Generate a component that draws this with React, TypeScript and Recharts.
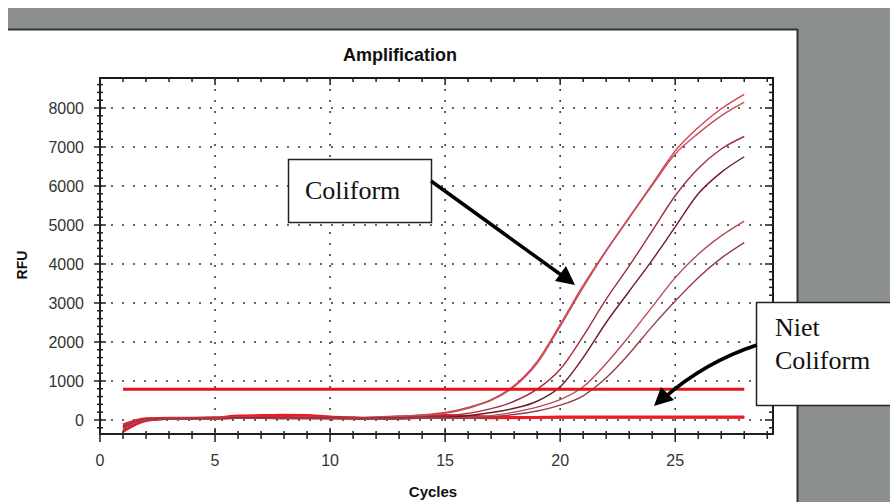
import { LineChart, Line, XAxis, YAxis, CartesianGrid, ReferenceLine } from 'recharts'

// cycle numbers (x)
const cycles = [1, 2, 3, 4, 5, 6, 7, 8, 9, 10, 11, 12, 13, 14, 15, 16, 17, 18, 19, 20, 21, 22, 23, 24, 25, 26, 27, 28]

// coliform amplification curves (RFU per cycle)
const colA = [-150, 20, 40, 50, 60, 70, 60, 60, 70, 60, 60, 80, 100, 130, 190, 320, 520, 880, 1500, 2450, 3450, 4350, 5200, 6050, 6900, 7500, 7980, 8350]
const colB = [-200, 10, 30, 40, 50, 60, 60, 50, 60, 50, 50, 70, 90, 120, 170, 300, 500, 850, 1450, 2400, 3400, 4330, 5180, 6020, 6820, 7350, 7800, 8150]
const colC = [-250, 0, 30, 40, 40, 50, 50, 50, 50, 50, 40, 50, 60, 80, 110, 170, 290, 480, 790, 1300, 2150, 3100, 3950, 4850, 5750, 6450, 6950, 7270]
const colD = [-180, 10, 30, 40, 40, 50, 50, 40, 40, 40, 40, 40, 50, 60, 70, 110, 190, 300, 480, 850, 1600, 2500, 3300, 4100, 4950, 5800, 6350, 6750]
const colE = [-220, 0, 20, 30, 40, 40, 40, 40, 40, 30, 30, 30, 40, 50, 50, 60, 110, 200, 330, 520, 850, 1450, 2150, 2900, 3650, 4250, 4720, 5100]
const colF = [-160, 10, 20, 30, 30, 40, 40, 30, 30, 30, 30, 30, 30, 40, 40, 40, 80, 140, 230, 380, 620, 1080, 1700, 2400, 3050, 3650, 4150, 4550]

// non-coliform (flat) curves
const niet1 = [-120, 40, 50, 50, 60, 110, 120, 130, 120, 80, 60, 40, 60, 110, 120, 100, 80, 70, 70, 70, 70, 70, 70, 70, 70, 70, 70, 70]
const niet2 = [-300, -20, 30, 40, 40, 60, 80, 90, 90, 60, 40, 30, 40, 60, 70, 60, 50, 50, 60, 60, 60, 60, 60, 60, 60, 60, 60, 60]
const niet3 = [-200, 0, 40, 40, 50, 80, 100, 110, 100, 70, 50, 30, 50, 80, 90, 80, 60, 60, 70, 80, 80, 80, 80, 80, 80, 80, 80, 80]

const threshold = 790
const thresholdStart = 1
const thresholdEnd = 28

const xMajor = [0, 5, 10, 15, 20, 25]
const yMajor = [0, 1000, 2000, 3000, 4000, 5000, 6000, 7000, 8000]
const xDomain = [0, 29.25]
const yDomain = [-360, 8770]
const xTicks = Array.from({ length: 30 }, (_, i) => i)
const yTicks = Array.from({ length: 45 }, (_, i) => -200 + i * 200)

// plot box in page pixels
const PLOT = { left: 100, top: 78, right: 773, bottom: 434 }

const data = cycles.map((c, i) => ({
  cycle: c,
  a: colA[i],
  b: colB[i],
  c: colC[i],
  d: colD[i],
  e: colE[i],
  f: colF[i],
  n1: niet1[i],
  n2: niet2[i],
  n3: niet3[i],
}))

const coliformSeries = [
  { key: 'a', color: '#d8404e' },
  { key: 'b', color: '#c0505a' },
  { key: 'c', color: '#a32c3c' },
  { key: 'd', color: '#6a1c26' },
  { key: 'e', color: '#b84a56' },
  { key: 'f', color: '#93404c' },
]
const nietSeries = ['n1', 'n2', 'n3']

const FONT = '"Liberation Sans", Arial, sans-serif'
const SERIF = '"Liberation Serif", "Times New Roman", serif'
const AX = '#222'

// same linear mapping the chart uses, for the mirrored top/right ticks
const px = (c) => PLOT.left + ((c - xDomain[0]) / (xDomain[1] - xDomain[0])) * (PLOT.right - PLOT.left)
const py = (v) => PLOT.bottom - ((v - yDomain[0]) / (yDomain[1] - yDomain[0])) * (PLOT.bottom - PLOT.top)

const BottomTick = ({ x, y, payload }: any) => {
  const v = payload.value
  const major = v % 5 === 0
  return (
    <g>
      <line x1={x} x2={x} y1={y - (major ? 6 : 3)} y2={y + (major ? 8 : 5)} stroke={AX} strokeWidth={1.5} />
      {major && (
        <text x={x} y={y + 32} textAnchor="middle" fontSize={16} fontFamily={FONT} fill="#333">
          {v}
        </text>
      )}
    </g>
  )
}

const LeftTick = ({ x, y, payload }: any) => {
  const v = payload.value
  const major = v % 1000 === 0
  return (
    <g>
      <line x1={x - (major ? 6 : 3)} x2={x + (major ? 6 : 3)} y1={y} y2={y} stroke={AX} strokeWidth={1.5} />
      {major && (
        <text x={x - 16} y={y + 6} textAnchor="end" fontSize={16} fontFamily={FONT} fill="#333">
          {v}
        </text>
      )}
    </g>
  )
}

export default function App() {
  return (
    <div style={{ position: 'absolute', left: 0, top: 0, width: 890, height: 502, background: '#fff', overflow: 'hidden' }}>
      <svg width={890} height={502} style={{ position: 'absolute', left: 0, top: 0 }}>
        <rect x={8} y={8} width={882} height={21} fill="#8b8f8d" />
        <rect x={797} y={8} width={93} height={494} fill="#8b8f8d" />
        <line x1={8} x2={798} y1={29.5} y2={29.5} stroke="#333" strokeWidth={2} />
        <line x1={797.5} x2={797.5} y1={29} y2={502} stroke="#333" strokeWidth={2} />
        {/* plot frame */}
        <rect
          x={PLOT.left}
          y={PLOT.top}
          width={PLOT.right - PLOT.left}
          height={PLOT.bottom - PLOT.top}
          fill="none"
          stroke="#1a1a1a"
          strokeWidth={2}
        />
        {xTicks.map((t) => (
          <line
            key={'tt' + t}
            x1={px(t)}
            x2={px(t)}
            y1={PLOT.top}
            y2={PLOT.top + (t % 5 === 0 ? 7 : 4)}
            stroke="#1a1a1a"
            strokeWidth={1.5}
          />
        ))}
        {yTicks.map((t) => (
          <line
            key={'rt' + t}
            x1={PLOT.right - (t % 1000 === 0 ? 8 : 4)}
            x2={PLOT.right}
            y1={py(t)}
            y2={py(t)}
            stroke="#1a1a1a"
            strokeWidth={1.5}
          />
        ))}
      </svg>

      <div style={{ position: 'absolute', left: 0, top: 0 }}>
        <LineChart
          width={890}
          height={502}
          data={data}
          margin={{ top: PLOT.top, right: 890 - PLOT.right, bottom: 502 - PLOT.bottom - 30, left: PLOT.left - 60 }}
        >
          <CartesianGrid
            horizontalValues={yMajor}
            verticalValues={xMajor}
            stroke="#333"
            strokeWidth={1.5}
            strokeDasharray="2 9"
          />
          <XAxis
            dataKey="cycle"
            type="number"
            domain={xDomain}
            ticks={xTicks}
            interval={0}
            allowDataOverflow
            height={30}
            tickSize={0}
            tickMargin={0}
            tickLine={false}
            tick={<BottomTick />}
            axisLine={{ stroke: AX, strokeWidth: 1.5 }}
          />
          <YAxis
            type="number"
            domain={yDomain}
            ticks={yTicks}
            interval={0}
            allowDataOverflow
            width={60}
            tickSize={0}
            tickMargin={0}
            tickLine={false}
            tick={<LeftTick />}
            axisLine={{ stroke: AX, strokeWidth: 1.5 }}
          />

          {nietSeries.map((k) => (
            <Line
              key={k}
              dataKey={k}
              type="monotone"
              stroke="#ec1c24"
              strokeWidth={2.5}
              dot={false}
              activeDot={false}
              isAnimationActive={false}
            />
          ))}
          {coliformSeries.map((s) => (
            <Line
              key={s.key}
              dataKey={s.key}
              type="monotone"
              stroke={s.color}
              strokeWidth={1.4}
              dot={false}
              activeDot={false}
              isAnimationActive={false}
            />
          ))}
          <ReferenceLine
            segment={[
              { x: thresholdStart, y: threshold },
              { x: thresholdEnd, y: threshold },
            ]}
            stroke="#e3141c"
            strokeWidth={3}
          />
        </LineChart>
      </div>

      <svg width={890} height={502} style={{ position: 'absolute', left: 0, top: 0, pointerEvents: 'none' }}>
        <text x={400} y={61} textAnchor="middle" fontSize={18} fontWeight="bold" fontFamily={FONT} fill="#111">
          Amplification
        </text>
        <text x={433} y={497} textAnchor="middle" fontSize={15} fontWeight="bold" fontFamily={FONT} fill="#111">
          Cycles
        </text>
        <text
          x={0}
          y={0}
          transform="translate(27,265) rotate(-90)"
          textAnchor="middle"
          fontSize={14}
          fontWeight="bold"
          fontFamily={FONT}
          fill="#111"
        >
          RFU
        </text>

        {/* Coliform callout */}
        <rect x={288.5} y={159.5} width={143} height={63} fill="#fff" stroke="#222" strokeWidth={1.5} />
        <text x={305} y={199} fontSize={26} fontFamily={SERIF} fill="#111">
          Coliform
        </text>
        <line x1={431} y1={181} x2={564} y2={277} stroke="#000" strokeWidth={3.5} />
        <polygon points="575,285 555,281 566,266" fill="#000" />

        {/* Niet Coliform callout */}
        <rect x={756.5} y={302.5} width={140} height={103} fill="#fff" stroke="#222" strokeWidth={1.5} />
        <text x={775} y={336} fontSize={26} fontFamily={SERIF} fill="#111">
          Niet
        </text>
        <text x={775} y={369} fontSize={26} fontFamily={SERIF} fill="#111">
          Coliform
        </text>
        <path d="M757,345 Q705,362 664,398" fill="none" stroke="#000" strokeWidth={3.5} />
        <polygon points="654,406 661,387 674,400" fill="#000" />
      </svg>
    </div>
  )
}
